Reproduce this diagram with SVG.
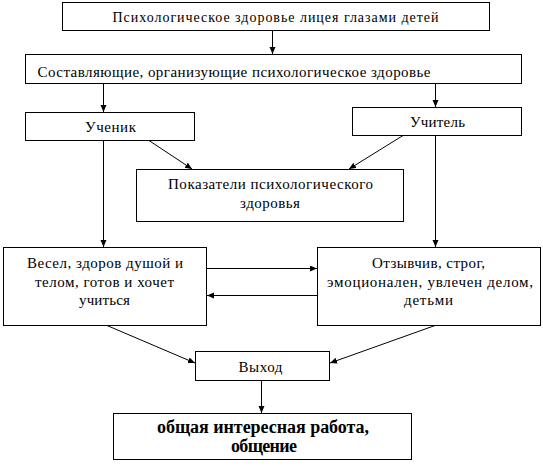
<svg xmlns="http://www.w3.org/2000/svg" width="543" height="473" viewBox="0 0 543 473">
<style>
.box{fill:#fff;stroke:#000;stroke-width:1}
.t{font-family:"Liberation Serif","Times New Roman",serif;font-size:15px;fill:#000}
.s14{font-size:14px}
.b{font-weight:bold;font-size:18px}
.c{stroke:#000;stroke-width:1;fill:none;marker-end:url(#ah)}
</style>
<defs>
<marker id="ah" markerWidth="8" markerHeight="8" refX="7" refY="3" orient="auto" markerUnits="userSpaceOnUse">
<path d="M0,0 L7,3 L0,6 z" fill="#000"/>
</marker>
</defs>
<rect width="543" height="473" fill="#fff"/>
<g id="connectors">
<line class="c" x1="272.5" y1="30.5" x2="272.5" y2="54"/>
<line class="c" x1="103.5" y1="83.5" x2="103.5" y2="112"/>
<line class="c" x1="435.5" y1="83.5" x2="435.5" y2="107"/>
<line class="c" x1="149" y1="140.5" x2="192" y2="169"/>
<line class="c" x1="403" y1="135.5" x2="349" y2="169"/>
<line class="c" x1="103.5" y1="140.5" x2="103.5" y2="247"/>
<line class="c" x1="435.5" y1="135.5" x2="435.5" y2="247"/>
<line class="c" x1="206.5" y1="268.5" x2="317" y2="268.5"/>
<line class="c" x1="317.5" y1="295.5" x2="207" y2="295.5"/>
<line class="c" x1="107" y1="325.5" x2="195" y2="363"/>
<line class="c" x1="435" y1="325.5" x2="330" y2="363"/>
<line class="c" x1="261.5" y1="380.5" x2="261.5" y2="413"/>
</g>
<g id="n1">
<rect class="box" x="62.5" y="2.5" width="427" height="28"/>
<text class="t s14" x="112.5" y="21.5" textLength="326" lengthAdjust="spacing">Психологическое здоровье лицея глазами детей</text>
</g>
<g id="n2">
<rect class="box" x="25.5" y="54.5" width="496" height="29"/>
<text class="t" x="37.5" y="77" textLength="393" lengthAdjust="spacing">Составляющие, организующие психологическое здоровье</text>
</g>
<g id="n3">
<rect class="box" x="25.5" y="112.5" width="169" height="28"/>
<text class="t" x="85" y="132" textLength="51" lengthAdjust="spacing">Ученик</text>
</g>
<g id="n4">
<rect class="box" x="352.5" y="107.5" width="169" height="28"/>
<text class="t" x="410" y="127" textLength="55" lengthAdjust="spacing">Учитель</text>
</g>
<g id="n5">
<rect class="box" x="136.5" y="169.5" width="267" height="52"/>
<text class="t" x="168" y="189" textLength="205" lengthAdjust="spacing">Показатели психологического</text>
<text class="t" x="240" y="207.5" textLength="60" lengthAdjust="spacing">здоровья</text>
</g>
<g id="n6">
<rect class="box" x="3.5" y="247.5" width="203" height="78"/>
<text class="t" x="27" y="268" textLength="156" lengthAdjust="spacing">Весел, здоров душой и</text>
<text class="t" x="35" y="286.5" textLength="139" lengthAdjust="spacing">телом, готов и хочет</text>
<text class="t" x="79" y="305" textLength="51" lengthAdjust="spacing">учиться</text>
</g>
<g id="n7">
<rect class="box" x="317.5" y="247.5" width="223" height="78"/>
<text class="t" x="372" y="268" textLength="113" lengthAdjust="spacing">Отзывчив, строг,</text>
<text class="t" x="327" y="286.5" textLength="206" lengthAdjust="spacing">эмоционален, увлечен делом,</text>
<text class="t" x="404" y="305" textLength="49" lengthAdjust="spacing">детьми</text>
</g>
<g id="n8">
<rect class="box" x="195.5" y="351.5" width="134" height="29"/>
<text class="t" x="238.5" y="371.5" textLength="44" lengthAdjust="spacing">Выход</text>
</g>
<g id="n9">
<rect class="box" x="113.5" y="413.5" width="298" height="46"/>
<text class="t b" x="157" y="433" textLength="212" lengthAdjust="spacing">общая интересная работа,</text>
<text class="t b" x="231" y="452" textLength="66" lengthAdjust="spacing">общение</text>
</g>
</svg>
